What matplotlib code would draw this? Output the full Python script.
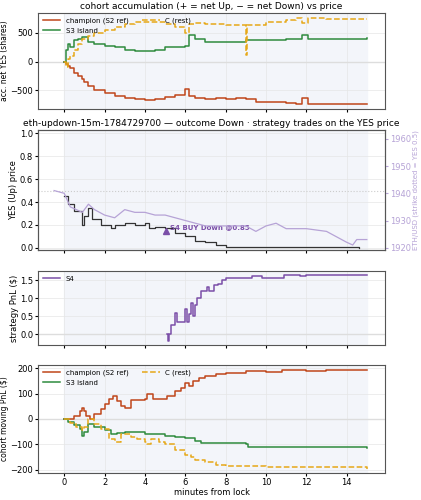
import matplotlib
matplotlib.use("Agg")
import matplotlib.pyplot as plt

# panel 1: accumulation
champ_t = [0,0.1,0.2,0.3,0.5,0.7,0.9,1.0,1.2,1.5,2,2.5,3,3.5,4,4.5,5,5.5,6,6.2,6.5,7,7.5,8,8.5,9,9.5,10,10.5,11,11.5,11.8,12.1,12.5,13,14,15]
champ_acc = [0,-50,-80,-120,-200,-250,-300,-360,-420,-500,-550,-600,-640,-660,-670,-660,-620,-580,-480,-600,-640,-650,-640,-650,-640,-660,-700,-700,-710,-720,-740,-640,-740,-740,-740,-740,-750]
s3_t = [0,0.1,0.2,0.3,0.5,0.7,0.9,1.2,1.5,2,2.5,3,3.5,4,4.5,5,5.5,6,6.2,6.5,7,8,9,10,11,11.5,11.8,12.1,13,15]
s3_acc = [0,200,300,250,380,400,430,350,300,270,250,200,180,190,200,250,260,280,460,400,350,350,370,380,390,400,470,400,400,410]
c_t = [0,0.1,0.2,0.3,0.5,0.7,0.9,1.2,1.5,2,2.5,3,3.5,4,4.5,5,5.5,6,6.2,6.5,7,8,8.9,9.0,9.05,9.5,10,11,11.5,11.8,12.1,13,15]
c_acc = [0,-100,50,100,200,300,400,450,500,550,600,650,700,690,700,660,600,500,650,680,650,640,640,120,640,640,700,720,770,680,770,750,750]

# panel 2: prices
yes_t = [0,0.2,0.5,0.9,1.0,1.2,1.4,1.8,2,2.3,2.5,3,3.5,4,4.2,4.5,5,5.5,6,6.5,7,7.5,8,9,10,11,12,13,14,14.6]
yes_p = [0.45,0.38,0.32,0.2,0.28,0.35,0.25,0.2,0.2,0.17,0.2,0.22,0.2,0.22,0.17,0.18,0.17,0.13,0.1,0.06,0.05,0.02,0.01,0.01,0.01,0.005,0.005,0.005,0.003,0.0]
eth_t = [-0.5,0,0.3,0.9,1.2,1.5,2,2.5,3,3.5,4,4.5,5,5.5,6,6.5,7,8,9,9.5,10,10.5,11,12,13,14,14.3,14.5,15]
eth_p = [1941,1940,1935,1933,1936,1934,1932,1931,1934,1933,1933,1932,1932,1931,1930,1929,1928,1928,1928,1926,1928,1929,1927,1927,1926,1922,1921,1923,1923]
trade_t, trade_p = 5.05, 0.15

# panel 3: S4 PnL
s4_t = [5.1,5.15,5.2,5.3,5.5,5.6,5.8,6.0,6.1,6.2,6.3,6.4,6.5,6.6,6.8,7.1,7.2,7.4,7.6,7.8,8,9,9.3,9.8,10.8,10.9,11.7,12,13,15]
s4_pnl = [0,-0.2,0,0.25,0.6,0.35,0.35,0.7,0.35,0.55,0.85,0.5,0.8,1.0,1.2,1.3,1.2,1.35,1.4,1.5,1.55,1.55,1.62,1.55,1.55,1.63,1.6,1.63,1.65,1.65]

# panel 4: cohort PnL
champ_pt = [0,0.5,0.8,0.9,1.0,1.1,1.3,1.5,1.8,2,2.2,2.4,2.6,2.8,3.0,3.3,4,4.1,4.4,5.1,5.5,5.8,6,6.2,6.4,6.7,7,7.5,8,9,9.5,10,10.8,12,13,15]
champ_pnl = [0,10,30,45,30,10,0,20,40,60,80,90,70,50,45,75,80,100,80,90,110,120,140,130,150,160,170,175,180,190,190,185,192,190,192,192]
s3_pt = [0,0.2,0.5,0.8,0.9,1.0,1.2,1.5,2,2.3,2.6,3,3.5,4,4.5,5,5.5,6,6.5,6.8,8,9,9.1,10,11,15]
s3_pnl = [0,-10,-25,-40,-65,-50,-20,-30,-45,-60,-55,-50,-50,-60,-60,-65,-70,-75,-85,-95,-95,-100,-110,-110,-110,-112]
c_pt = [0,0.3,0.6,0.9,1.0,1.2,1.5,1.8,2.2,2.5,2.8,3.3,3.6,4,4.1,4.3,4.7,5,5.5,6,6.3,6.5,7,7.5,8,10,12,15]
c_pnl = [0,-15,-30,-45,-30,0,-20,-40,-80,-90,-60,-70,-80,-90,-100,-80,-90,-100,-120,-140,-150,-160,-170,-180,-185,-190,-190,-195]

RED, GRN, YEL, PUR, LPUR = "#c0461a", "#2e8b3e", "#e6a817", "#7b4fa8", "#b6a3d6"

fig = plt.figure(figsize=(4.21, 5.0), dpi=100)
W, H = 421, 500
def ax_at(x0, y0, x1, y1):
    return fig.add_axes([x0/W, 1-y1/H, (x1-x0)/W, (y1-y0)/H])

axes = [ax_at(38, 13, 385, 109), ax_at(38, 130, 385, 250), ax_at(38, 271, 385, 345), ax_at(38, 365, 385, 473)]
for a in axes:
    a.set_xlim(-1.3, 15.9)
    a.axvspan(0, 15, color="#f3f5fa", zorder=0)
    a.grid(True, color="#e6e6e6", lw=0.5)
    a.tick_params(labelsize=6, length=2, pad=1.5)
    for s in a.spines.values():
        s.set_color("#555555")
    a.set_xticks([0, 2, 4, 6, 8, 10, 12, 14])
    if a is not axes[-1]:
        a.set_xticklabels([])

a = axes[0]
a.axhline(0, color="#dddddd", lw=1)
a.step(champ_t, champ_acc, where="post", color=RED, lw=1.1, label="champion (S2 ref)")
a.step(s3_t, s3_acc, where="post", color=GRN, lw=1.1, label="S3 island")
a.step(c_t, c_acc, where="post", color=YEL, lw=1.1, ls="--", label="C (rest)")
a.set_ylim(-830, 850)
a.set_yticks([-500, 0, 500])
a.set_ylabel("acc. net YES (shares)", fontsize=5.5, labelpad=1)
a.set_title("cohort accumulation (+ = net Up, − = net Down) vs price", fontsize=6.5, pad=3)
a.legend(loc="upper left", ncol=2, fontsize=5, frameon=False, handlelength=2.5, borderaxespad=0.3)

a = axes[1]
a.axhline(0.5, color="#cccccc", lw=0.8, ls=":")
a.step(yes_t, yes_p, where="post", color="#333333", lw=0.9)
a.plot(trade_t, trade_p, marker="^", color=PUR, ms=5)
a.annotate("S4 BUY Down @0.85", (trade_t, trade_p), xytext=(3, 1), textcoords="offset points",
           fontsize=5, color=PUR, fontweight="bold")
a.set_ylim(-0.02, 1.03)
a.set_yticks([0, 0.2, 0.4, 0.6, 0.8, 1.0])
a.set_ylabel("YES (Up) price", fontsize=6, labelpad=1)
a.set_title("eth-updown-15m-1784729700 — outcome Down · strategy trades on the YES price", fontsize=6.5, pad=3)
b = a.twinx()
b.plot(eth_t, eth_p, color=LPUR, lw=0.9)
b.set_ylim(1920 - 0.02*42, 1920 + 1.03*42)
b.set_yticks([1920, 1930, 1940, 1950, 1960])
b.tick_params(labelsize=6, length=2, colors=LPUR, pad=1.5)
b.set_ylabel("ETH/USD (strike dotted = YES 0.5)", fontsize=5, color=LPUR, labelpad=1)
for s in b.spines.values():
    s.set_color("#555555")

a = axes[2]
a.axhline(0, color="#dddddd", lw=1)
a.step(s4_t, s4_pnl, where="post", color=PUR, lw=1.1, label="S4")
a.set_ylim(-0.3, 1.75)
a.set_yticks([0, 0.5, 1.0, 1.5])
a.set_ylabel("strategy PnL ($)", fontsize=6, labelpad=1)
a.legend(loc="upper left", fontsize=5, frameon=False, handlelength=2.5, borderaxespad=0.3)

a = axes[3]
a.axhline(0, color="#dddddd", lw=1)
a.step(champ_pt, champ_pnl, where="post", color=RED, lw=1.1, label="champion (S2 ref)")
a.step(s3_pt, s3_pnl, where="post", color=GRN, lw=1.1, label="S3 island")
a.step(c_pt, c_pnl, where="post", color=YEL, lw=1.1, ls="--", label="C (rest)")
a.set_ylim(-212, 212)
a.set_yticks([-200, -100, 0, 100, 200])
a.set_ylabel("cohort moving PnL ($)", fontsize=5.5, labelpad=1)
a.set_xlabel("minutes from lock", fontsize=6, labelpad=1)
a.legend(loc="upper left", ncol=2, fontsize=5, frameon=False, handlelength=2.5, borderaxespad=0.3)

fig.savefig("out.png", dpi=100)
